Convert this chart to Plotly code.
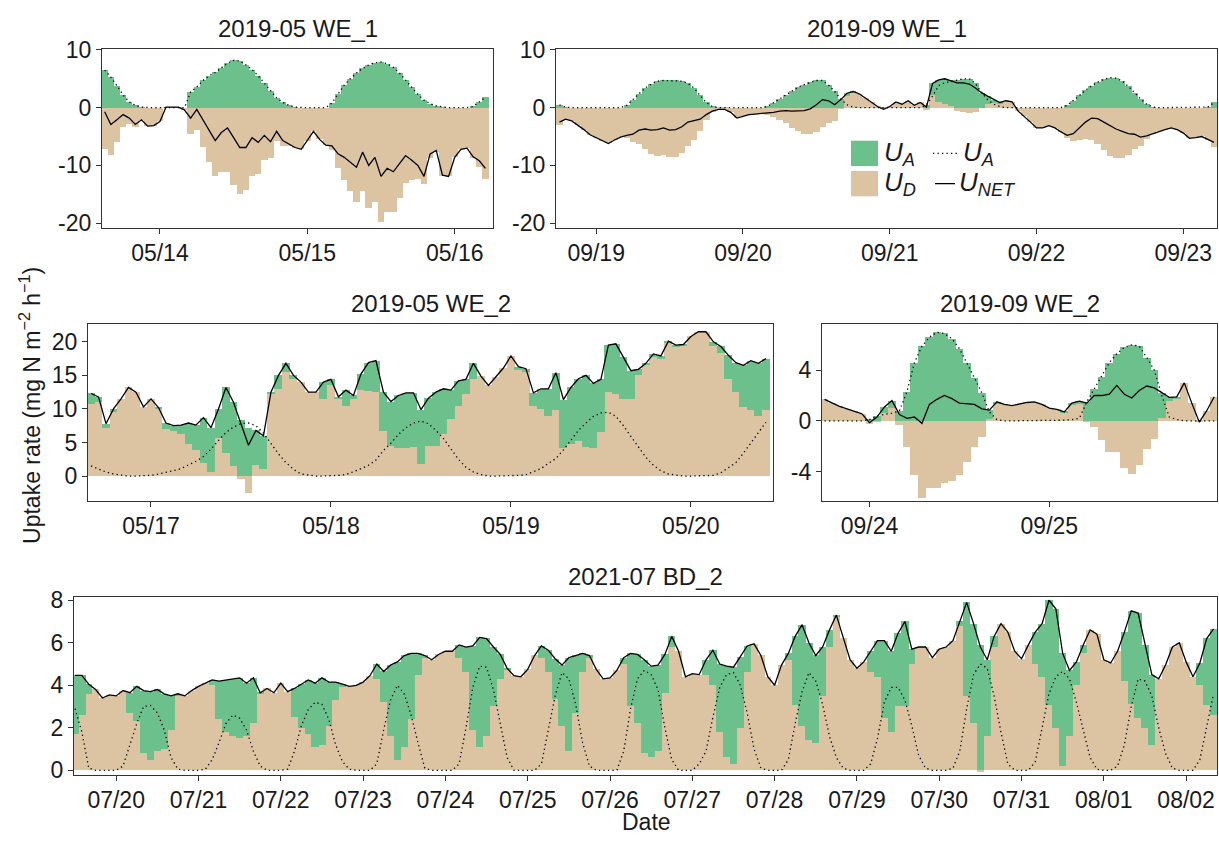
import pandas as pd
import plotly.graph_objects as go

W, H = 1219, 844
GREEN = "#6cc08b"
TAN = "#dcc3a1"
INK = "#1a1a1a"
FRAME = "#333333"
FONT = "Liberation Sans, Arial, Helvetica, sans-serif"

# ---------------- Panel 1: 2019-05 WE_1 (hourly from 05/13 15:00) ----------------
p1_title = "2019-05 WE_1"
p1_start = "2019-05-13 15:00"
p1_ua = [6.5, 5.3, 3.8, 2.2, 1.0, 0.4, 0.1, 0, 0,
         0, 0, 0, 0, 0, 2.7, 3.6, 4.7, 5.5, 6.1, 6.9, 7.7, 8.2, 8.1, 7.4, 6.6, 5.5, 4.2, 2.9, 1.7, 0.9, 0.4, 0.1, 0,
         0, 0, 0, 0, 0.8, 2.4, 3.9, 5.0, 6.0, 6.8, 7.4, 7.8, 7.9, 7.6, 7.0, 6.0, 4.8, 3.5, 2.3, 1.3, 0.7, 0.3, 0.1, 0,
         0, 0, 0, 0.2, 1.0, 1.8]
p1_unet = [-0.7, -2.9, -2.1, -1.2, -1.8, -2.9, -2.1, -3.2, -3.1,
           -2.4, 0.1, 0.1, 0.1, -0.4, -1.8, -0.3, -2.1, -3.9, -5.7, -4.3, -3.5, -5.2, -6.9, -6.9, -5.2, -6.0, -4.8, -5.9, -4.1, -5.7, -6.3, -6.9, -7.2,
           -5.7, -4.1, -5.5, -6.5, -6.6, -8.0, -8.6, -9.4, -10.3, -7.7, -10.0, -8.6, -11.9, -10.5, -11.1, -9.7, -8.3, -9.1, -10.0, -11.9, -8.0, -7.4, -11.7, -11.9,
           -8.6, -7.2, -7.0, -8.5, -9.2, -10.5]

# ---------------- Panel 2: 2019-09 WE_1 (hourly from 09/18 18:00) ----------------
p2_title = "2019-09 WE_1"
p2_start = "2019-09-18 18:00"
p2_ua = [0.5, 0.1, 0, 0, 0, 0,
         0, 0, 0, 0, 0, 0.4, 1.4, 2.4, 3.4, 4.1, 4.6, 4.7, 4.7, 4.7, 4.6, 4.2, 3.4, 2.1, 0.9, 0.2, 0, 0, 0, 0,
         0, 0, 0, 0, 0.2, 0.8, 1.5, 2.2, 2.9, 3.5, 4.0, 4.4, 4.7, 4.7, 3.9, 2.8, 1.5, 0.5, 0.1, 0, 0, 0, 0, 0,
         0, 0, 0, 0, 0, 0, 0.5, 2.0, 3.8, 4.3, 4.5, 4.8, 5.0, 5.0, 4.2, 2.6, 1.4, 0.6, 0.2, 0, 0, 0, 0, 0,
         0, 0, 0, 0, 0, 0.4, 1.2, 2.1, 3.0, 3.8, 4.4, 4.9, 5.2, 5.1, 4.6, 3.7, 2.6, 1.5, 0.6, 0.1, 0, 0, 0, 0,
         0, 0, 0, 0, 0.1, 0.9]
p2_unet = [-2.5, -2.0, -2.3, -3.0, -3.8, -4.7,
           -5.2, -5.8, -6.2, -5.6, -5.1, -4.8, -4.6, -3.9, -3.7, -3.9, -3.8, -3.5, -3.9, -3.8, -3.3, -2.5, -2.2, -2.0, -1.2, -0.6, -0.3, -0.3, -0.8, -1.8,
           -1.5, -1.2, -1.1, -1.0, -1.0, -0.8, -0.6, -0.5, -0.6, -0.6, -0.5, -0.2, 0.5, 1.4, 1.2, 0.5, 1.4, 2.5, 2.8, 2.4, 1.7, 0.9, 0.2, -0.3,
           0.2, 1.0, 0.6, 1.2, 0.4, 0.9, 0.1, 4.2, 4.8, 5.0, 4.7, 4.3, 4.3, 4.1, 3.4, 2.6, 2.0, 1.4, 0.9, 1.2, 1.0, -0.6, -1.5, -2.5,
           -3.5, -3.5, -3.1, -3.5, -4.2, -4.8, -4.5, -3.5, -2.5, -1.8, -1.9, -2.5, -3.1, -3.7, -4.1, -4.5, -4.6, -5.1, -4.9, -4.5, -4.1, -3.8, -3.5, -3.8,
           -4.4, -5.3, -5.2, -5.0, -5.5, -6.0]

# ---------------- Panel 3: 2019-05 WE_2 (hourly from 05/16 16:00) ----------------
p3_title = "2019-05 WE_2"
p3_start = "2019-05-16 16:00"
p3_ua_line = [1.5, 1.0, 0.6, 0.3, 0.1, 0, 0, 0,
              0.1, 0.3, 0.5, 0.8, 1.1, 1.6, 2.2, 2.9, 4.0, 5.3, 6.5, 7.3, 7.8, 7.9, 7.5, 6.4, 4.8, 3.3, 2.0, 1.0, 0.3, 0.1, 0, 0,
              0, 0.1, 0.2, 0.6, 1.1, 1.6, 2.4, 3.8, 4.9, 6.2, 7.2, 7.9, 8.2, 7.8, 6.8, 5.6, 4.0, 2.5, 1.3, 0.6, 0.2, 0, 0, 0,
              0, 0.1, 0.2, 0.6, 1.1, 1.9, 2.6, 3.9, 5.3, 6.8, 7.9, 8.9, 9.4, 9.5, 8.9, 7.5, 5.9, 4.3, 2.8, 1.6, 0.8, 0.3, 0.1, 0,
              0, 0, 0, 0.1, 0.5, 1.2, 2.0, 3.4, 4.9, 6.4, 8.0]
p3_ud = [10.8, 11.0, 7.2, 9.6, 11.5, 13.2, 12.5, 10.3,
         11.5, 10.0, 7.0, 6.7, 6.2, 4.8, 3.9, 2.0, 0.6, 5.7, 3.5, 1.5, -0.5, -2.5, 1.7, 1.0, 12.3, 13.0, 15.5, 14.5, 14.0, 12.5, 12.5, 11.5,
         13.5, 11.5, 10.4, 11.5, 12.8, 12.6, 12.5, 6.7, 4.4, 4.2, 4.2, 4.3, 1.8, 4.4, 4.4, 6.2, 8.5, 10.5, 12.2, 14.5, 14.9, 13.5, 14.8, 16.1,
         17.9, 15.8, 15.5, 10.4, 10.0, 9.0, 9.8, 4.2, 4.7, 5.2, 4.3, 4.1, 6.5, 12.5, 12.2, 11.5, 11.5, 15.0, 16.5, 17.8, 17.5, 19.8, 19.3, 19.5,
         20.8, 21.5, 21.5, 19.3, 18.3, 14.5, 12.5, 10.3, 9.8, 9.0, 9.8]
p3_unet = [12.3, 11.8, 7.8, 10.0, 11.5, 13.2, 12.5, 10.3,
           11.5, 10.2, 7.9, 7.5, 7.6, 7.9, 7.6, 8.7, 7.2, 10.0, 13.2, 11.0, 7.8, 4.6, 6.8, 6.0, 12.5, 15.0, 16.8, 15.0, 14.0, 12.5, 12.5, 14.0,
           14.4, 11.8, 12.8, 12.0, 15.2, 16.9, 17.2, 12.5, 11.1, 12.0, 12.4, 12.4, 9.9, 11.6, 12.5, 13.0, 12.8, 14.2, 14.4, 16.8, 14.9, 13.5, 14.8, 16.1,
           17.9, 16.3, 16.0, 12.4, 13.0, 13.0, 15.4, 11.4, 13.2, 14.5, 15.0, 13.8, 14.4, 19.5, 19.7, 17.8, 15.7, 15.9, 16.8, 18.2, 17.9, 20.1, 19.5, 19.6,
           20.8, 21.5, 21.5, 20.0, 19.3, 18.0, 16.9, 16.5, 17.2, 16.8, 17.5]

# ---------------- Panel 4: 2019-09 WE_2 (hourly from 09/23 18:00) ----------------
p4_title = "2019-09 WE_2"
p4_start = "2019-09-23 18:00"
p4_ua = [0, 0, 0, 0, 0, 0,
         0.1, 0.4, 0.5, 0.6, 0.8, 2.3, 4.6, 5.9, 6.6, 7.0, 6.9, 6.5, 5.7, 4.6, 3.4, 2.2, 0.7, 0.1,
         0, 0, 0, 0, 0, 0, 0,
         0, 0.05, 0.1, 0.2, 1.5, 2.5, 3.5, 4.6, 5.3, 5.8, 6.0, 5.9, 5.0, 4.0, 2.0, 0.3, 0.1,
         0, 0, 0, 0, 0]
p4_unet = [1.7, 1.4, 1.15, 0.95, 0.75, 0.55,
           -0.15, 0.3, 1.1, 1.6, 0.5, 0.2, 0.3, -0.2, 1.3, 1.7, 2.0, 1.75, 1.4, 1.35, 1.3, 0.95, 0.85, 1.5,
           1.3, 1.2, 1.35, 1.45, 1.5, 1.3, 1.0,
           0.9, 0.7, 1.4, 1.55, 1.4, 2.0, 2.0, 2.1, 2.8, 2.1, 1.8, 2.4, 2.75, 2.6, 2.2, 1.85, 1.9,
           3.0, 1.4, -0.1, 0.8, 1.9]

# ---------------- Panel 5: 2021-07 BD_2 (2-hourly from 07/19 12:00) ----------------
p5_title = "2021-07 BD_2"
p5_start = "2021-07-19 12:00"
p5_unet = [4.47, 4.47, 4.05, 3.8, 3.4, 3.55, 3.5, 3.75, 3.65, 3.95, 3.75, 3.7,
           3.8, 3.6, 3.5, 3.6, 3.5, 3.75, 3.95, 4.1, 4.25, 4.2, 4.25, 4.3,
           4.35, 4.1, 4.35, 3.65, 3.85, 3.65, 4.1, 3.7, 3.85, 4.05, 4.25, 4.1,
           4.35, 4.15, 4.15, 4.05, 3.95, 4.0, 4.15, 4.45, 5.0, 4.65, 4.95, 5.1,
           5.4, 5.5, 5.5, 5.4, 5.2, 5.45, 5.6, 5.6, 5.9, 5.8, 5.85, 6.25,
           6.2, 5.8, 5.45, 4.8, 4.45, 4.4, 4.75, 5.4, 5.85, 5.65, 5.25, 4.95,
           5.3, 5.4, 5.5, 5.4, 4.75, 4.3, 4.35, 4.7, 5.3, 5.5, 5.45, 5.2,
           4.9, 4.95, 5.45, 6.3, 5.6, 4.4, 4.55, 4.5, 5.2, 5.65, 5.0, 4.9,
           4.85, 5.35, 5.85, 5.95, 5.4, 4.4, 4.0, 4.95, 5.5, 6.3, 6.85, 6.0,
           5.4, 5.8, 6.6, 7.3, 6.2, 5.2, 4.8, 5.1, 5.6, 6.1, 6.1, 5.6,
           6.45, 7.0, 5.7, 5.8, 5.8, 5.3, 5.7, 5.8, 6.1, 7.0, 7.9, 6.9,
           5.8, 5.2, 6.3, 6.9, 6.5, 5.6, 5.25, 5.9, 6.5, 6.9, 8.0, 7.6,
           5.5, 4.7, 5.1, 5.9, 6.6, 6.4, 5.2, 5.05, 5.6, 6.5, 7.5, 7.4,
           5.9, 4.5, 4.3, 4.95, 5.8, 6.0, 5.1, 4.4, 5.05, 6.2, 6.65]
p5_ud = [1.7, 2.6, 3.6, 3.8, 3.4, 3.55, 3.5, 3.75, 2.7, 2.3, 0.8, 0.5,
         0.9, 1.0, 1.9, 3.5, 3.5, 3.75, 3.95, 4.1, 4.0, 2.4, 1.8, 1.6,
         1.5, 1.6, 2.2, 3.6, 3.85, 3.65, 4.1, 3.7, 2.5, 2.0, 1.7, 1.1,
         1.2, 2.1, 3.3, 3.9, 3.95, 4.0, 4.15, 4.45, 4.3, 3.2, 1.6, 0.5,
         1.1, 2.4, 4.5, 5.3, 5.2, 5.45, 5.6, 5.6, 5.3, 4.6, 1.9, 1.07,
         1.6, 3.0, 4.3, 4.7, 4.45, 4.4, 4.75, 5.4, 5.3, 4.6, 3.35, 2.1,
         0.9, 2.7, 4.6, 5.3, 4.75, 4.3, 4.35, 4.7, 5.0, 3.0, 2.2, 0.8,
         0.6, 0.9, 3.65, 5.8, 5.6, 4.4, 4.55, 4.5, 4.5, 4.0, 1.8, 0.6,
         0.3, 2.0, 4.6, 5.95, 5.4, 4.4, 4.0, 4.95, 5.2, 3.05, 2.1, 1.4,
         1.3, 3.5, 5.8, 7.2, 6.2, 5.2, 4.8, 5.1, 4.6, 4.4, 2.45, 1.8,
         3.0, 3.0, 5.0, 5.8, 5.8, 5.3, 5.7, 5.8, 6.1, 6.8, 3.5, 2.2,
         -0.1, 1.6, 5.8, 6.9, 6.5, 5.6, 5.25, 5.9, 5.0, 4.4, 3.05, 2.0,
         0.2, 1.6, 4.0, 5.5, 6.6, 6.4, 5.2, 5.05, 5.6, 4.2, 3.1, 2.45,
         2.0, 1.2, 4.3, 4.95, 5.8, 6.0, 5.1, 4.4, 4.0, 3.05, 2.6]
p5_ua_line = [2.9, 1.8, 0.1, 0, 0, 0, 0, 0.2, 1.2, 2.2, 3.0, 3.05,
              2.7, 1.9, 0.6, 0.05, 0, 0, 0, 0.05, 0.5, 1.3, 2.2, 2.6,
              2.45, 1.9, 0.9, 0.2, 0, 0, 0, 0.05, 0.9, 2.1, 2.85, 3.2,
              3.1, 2.4, 1.2, 0.4, 0.05, 0, 0, 0, 0.3, 1.9, 3.3, 4.0,
              3.6, 2.6, 1.3, 0.1, 0, 0, 0, 0, 0.3, 2.0, 3.9, 4.9,
              4.85, 3.8, 2.2, 0.6, 0, 0, 0, 0, 0.3, 1.9, 3.5, 4.6,
              4.3, 3.1, 1.3, 0.2, 0, 0, 0, 0, 0.9, 2.9, 4.3, 4.7,
              4.5, 3.8, 2.0, 0.5, 0, 0, 0, 0.3, 0.9, 2.5, 3.9, 4.5,
              4.6, 4.0, 2.7, 1.0, 0.1, 0, 0, 0, 0.5, 2.2, 3.7, 4.6,
              4.2, 3.1, 1.6, 0.6, 0.1, 0, 0, 0, 0.3, 1.5, 3.2, 3.9,
              3.9, 3.3, 2.1, 0.7, 0.1, 0, 0, 0, 0.1, 0.9, 2.9, 4.5,
              5.0, 4.8, 3.5, 1.8, 0.3, 0, 0, 0, 0.4, 2.0, 3.6, 4.4,
              4.65, 4.3, 3.2, 1.9, 0.6, 0.05, 0, 0, 0.2, 1.2, 3.0, 4.3,
              4.2, 3.5, 2.0, 0.8, 0.1, 0, 0, 0, 0.5, 2.0, 3.6]


def diff(a, b):
    return [round(x - y, 3) for x, y in zip(a, b)]


panels = [
    dict(title=p1_title, start=p1_start, step=1,
         ud=diff(p1_unet, p1_ua), ua=p1_ua, ua_line=p1_ua, unet=p1_unet,
         xr=["2019-05-13 14:34", "2019-05-16 06:14"], yr=[-20.75, 10.15],
         yt=[-20, -10, 0, 10], box=(102, 493, 38, 221)),
    dict(title=p2_title, start=p2_start, step=1,
         ud=diff(p2_unet, p2_ua), ua=p2_ua, ua_line=p2_ua, unet=p2_unet,
         xr=["2019-09-18 17:26", "2019-09-23 05:30"], yr=[-20.75, 10.15],
         yt=[-20, -10, 0, 10], box=(556, 1217, 38, 221)),
    dict(title=p3_title, start=p3_start, step=1,
         ud=p3_ud, ua=[max(0.0, v) for v in diff(p3_unet, p3_ud)], ua_line=p3_ua_line, unet=p3_unet,
         xr=["2019-05-16 15:36", "2019-05-20 10:57"], yr=[-3.65, 22.65],
         yt=[0, 5, 10, 15, 20], box=(88, 773, 320, 501)),
    dict(title=p4_title, start=p4_start, step=1,
         ud=diff(p4_unet, p4_ua), ua=p4_ua, ua_line=p4_ua, unet=p4_unet,
         xr=["2019-09-23 17:40", "2019-09-25 22:22"], yr=[-6.3, 7.65],
         yt=[-4, 0, 4], box=(822, 1217, 320, 501)),
    dict(title=p5_title, start=p5_start, step=2,
         ud=p5_ud, ua=[max(0.0, v) for v in diff(p5_unet, p5_ud)], ua_line=p5_ua_line, unet=p5_unet,
         xr=["2021-07-19 11:42", "2021-08-02 09:00"], yr=[-0.2, 8.15],
         yt=[0, 2, 4, 6, 8], box=(74, 1217, 600, 782)),
]

DOT = dict(color="black", width=1.3, dash="1.3px,3.2px")
SOLID = dict(color="black", width=1.3)
TICK_SIZE = 23

fig = go.Figure()
layout = {}
annotations = []
shapes = []

for i, p in enumerate(panels, start=1):
    n = len(p["unet"])
    t = pd.date_range(p["start"], periods=n, freq=f"{p['step']}h")
    xa = "x" if i == 1 else f"x{i}"
    ya = "y" if i == 1 else f"y{i}"
    w = p["step"] * 3600 * 1000 * 1.06
    fig.add_trace(go.Bar(x=t, y=p["ud"], width=w, xaxis=xa, yaxis=ya, showlegend=False,
                         marker=dict(color=TAN, line=dict(width=0))))
    fig.add_trace(go.Bar(x=t, y=p["ua"], width=w, xaxis=xa, yaxis=ya, showlegend=False,
                         marker=dict(color=GREEN, line=dict(width=0))))
    fig.add_trace(go.Scatter(x=t, y=p["ua_line"], mode="lines", xaxis=xa, yaxis=ya, showlegend=False,
                             line=DOT))
    fig.add_trace(go.Scatter(x=t, y=p["unet"], mode="lines", xaxis=xa, yaxis=ya, showlegend=False,
                             line=SOLID))
    x0, x1, y0, y1 = p["box"]
    axis_common = dict(showline=True, mirror=True, linecolor=FRAME, linewidth=1.2,
                       ticks="outside", ticklen=5, tickcolor=FRAME, tickwidth=1.2,
                       showgrid=False, zeroline=False,
                       tickfont=dict(family=FONT, size=TICK_SIZE, color=INK))
    layout["xaxis" if i == 1 else f"xaxis{i}"] = dict(
        domain=[x0 / W, x1 / W], anchor=ya, type="date", range=p["xr"],
        tickformat="%m/%d", dtick=86400000, tick0=p["start"][:10] + " 00:00", **axis_common)
    layout["yaxis" if i == 1 else f"yaxis{i}"] = dict(
        domain=[1 - y1 / H, 1 - y0 / H], anchor=xa, range=p["yr"],
        tickvals=p["yt"], ticktext=[str(v) for v in p["yt"]], **axis_common)
    annotations.append(dict(text=p["title"], x=(x0 + x1) / 2 / W, y=1 - (y0 - 21) / H,
                            xref="paper", yref="paper", showarrow=False, xanchor="center", yanchor="middle",
                            font=dict(family=FONT, size=24, color=INK)))

# axis titles
annotations.append(dict(text="Uptake rate (mg N m<sup>−2</sup> h<sup>−1</sup>)", textangle=-90,
                        x=30 / W, y=1 - 404 / H, xref="paper", yref="paper", showarrow=False,
                        xanchor="center", yanchor="middle", font=dict(family=FONT, size=23, color=INK)))
annotations.append(dict(text="Date", x=646 / W, y=1 - 831 / H, xref="paper", yref="paper", showarrow=False,
                        xanchor="center", yanchor="middle", font=dict(family=FONT, size=23, color=INK)))


# legend (inside panel 2)
def px(x):
    return x / W


def py(y):
    return 1 - y / H


shapes.append(dict(type="rect", xref="paper", yref="paper", x0=px(851), x1=px(878), y0=py(158), y1=py(132),
                   fillcolor=GREEN, line=dict(width=0)))
shapes.append(dict(type="rect", xref="paper", yref="paper", x0=px(851), x1=px(878), y0=py(189), y1=py(163),
                   fillcolor=TAN, line=dict(width=0)))
shapes.append(dict(type="line", xref="paper", yref="paper", x0=px(933), x1=px(958), y0=py(145), y1=py(145),
                   line=DOT))
shapes.append(dict(type="line", xref="paper", yref="paper", x0=px(935), x1=px(955), y0=py(176), y1=py(176),
                   line=SOLID))
leg_font = dict(family=FONT, size=26, color=INK)
for txt, lx, ly in [("<i>U<sub>A</sub></i>", 882, 145), ("<i>U<sub>D</sub></i>", 882, 176),
                    ("<i>U<sub>A</sub></i>", 961, 145), ("<i>U<sub>NET</sub></i>", 957, 176)]:
    annotations.append(dict(text=txt, x=px(lx), y=py(ly), xref="paper", yref="paper", showarrow=False,
                            xanchor="left", yanchor="middle", font=leg_font))

fig.update_layout(
    width=W, height=H, margin=dict(l=0, r=0, t=0, b=0),
    paper_bgcolor="white", plot_bgcolor="white",
    barmode="relative", bargap=0, showlegend=False,
    annotations=annotations, shapes=shapes,
    font=dict(family=FONT, color=INK),
    **layout,
)

fig.write_html("out.html")
